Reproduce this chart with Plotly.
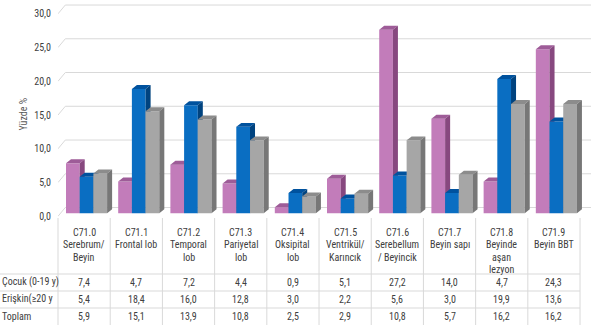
import plotly.graph_objects as go

# --- data -------------------------------------------------------------------
codes = ["C71.0", "C71.1", "C71.2", "C71.3", "C71.4",
         "C71.5", "C71.6", "C71.7", "C71.8", "C71.9"]
names = [["Serebrum/", "Beyin"], ["Frontal lob"], ["Temporal", "lob"], ["Pariyetal", "lob"],
         ["Oksipital", "lob"], ["Ventrikül/", "Karıncık"], ["Serebellum", "/ Beyincik"],
         ["Beyin sapı"], ["Beyinde", "aşan", "lezyon"], ["Beyin BBT"]]
series_names = ["Çocuk (0-19 y)", "Erişkin(≥20 y", "Toplam"]
cocuk = [7.4, 4.7, 7.2, 4.4, 0.9, 5.1, 27.2, 14.0, 4.7, 24.3]
eriskin = [5.4, 18.4, 16.0, 12.8, 3.0, 2.2, 5.6, 3.0, 19.9, 13.6]
toplam = [5.9, 15.1, 13.9, 10.8, 2.5, 2.9, 10.8, 5.7, 16.2, 16.2]
y_ticks = [0, 5, 10, 15, 20, 25, 30]
y_title = "Yüzde %"

series = [cocuk, eriskin, toplam]

# --- styling ----------------------------------------------------------------
FONT = "Liberation Sans Narrow, Arial Narrow, Roboto Condensed, Lato, sans-serif"
TXT = "#404040"
GRID = "#D9D9D9"
front_cols = ["#C27CBA", "#0A6EC2", "#A6A6A6"]
top_cols = ["#9E5C98", "#00529E", "#8C8C8C"]
side_cols = ["#87487F", "#00437F", "#777777"]

W, H = 591, 325
ML, MR, MT, MB = 58, 0, 2, 105
X_MIN, X_MAX = -0.5, 9.71
Y_MIN, Y_MAX = -1.0, 31.3

BAR_W = 0.2625               # front face width (category units)
BAR_OFF = [-0.347, -0.0845, 0.178]
DX, DY = 0.096, 0.59         # depth projection of the 3D bars
WALL_DY = 0.85               # back-wall gridline lift
FRONT_DY = -0.45             # front edge of the gridlines
WALL_DX = 0.14

LABEL_TOP = 232              # first line of the category labels (px)
LABEL_STEP = 12.6
ROW_Y = [282, 299, 316]
ROW_LINES = [274, 291, 308]
FS = 10


def px_x(px):
    return (px - ML) / (W - ML - MR)


def px_y(py):
    return (H - MB - py) / (H - MT - MB)


def fmt(v):
    return f"{v:.1f}".replace(".", ",")


fig = go.Figure()
xs = list(range(len(codes)))
axes = ["x", "x2", "x3"]

for s, vals in enumerate(series):
    xa = axes[s]
    # front faces
    fig.add_trace(go.Bar(
        x=xs, y=vals, width=BAR_W, offset=BAR_OFF[s],
        marker=dict(color=front_cols[s], line=dict(width=0)),
        name=series_names[s], xaxis=xa, yaxis="y", showlegend=False,
        hoverinfo="skip"))
    # top and side faces projected from each value
    tx, ty, sx, sy = [], [], [], []
    for i, v in zip(xs, vals):
        xl = i + BAR_OFF[s]
        xr = xl + BAR_W
        tx += [xl, xl + DX, xr + DX, xr, xl, None]
        ty += [v, v + DY, v + DY, v, v, None]
        sx += [xr, xr + DX, xr + DX, xr, xr, None]
        sy += [0, DY, v + DY, v, 0, None]
    fig.add_trace(go.Scatter(x=tx, y=ty, mode="lines", fill="toself",
                             fillcolor=top_cols[s], line=dict(width=0),
                             xaxis=xa, yaxis="y", showlegend=False, hoverinfo="skip"))
    fig.add_trace(go.Scatter(x=sx, y=sy, mode="lines", fill="toself",
                             fillcolor=side_cols[s], line=dict(width=0),
                             xaxis=xa, yaxis="y", showlegend=False, hoverinfo="skip"))

# gridlines on the back wall with a slanted lead-in from the axis
shapes = []
for v in y_ticks:
    shapes.append(dict(
        type="path", xref="x", yref="y", layer="below",
        path=(f"M {X_MIN},{v + FRONT_DY} L {X_MIN + WALL_DX},{v + WALL_DY} "
              f"L {X_MAX},{v + WALL_DY}"),
        line=dict(color=GRID, width=1)))

# data table grid
col_edges = [(i - 0.5 - X_MIN) / (X_MAX - X_MIN) for i in range(len(codes) + 1)]
for xe in col_edges:
    shapes.append(dict(type="line", xref="paper", yref="paper",
                       x0=xe, x1=xe, y0=px_y(218), y1=px_y(325),
                       line=dict(color=GRID, width=1)))
for py in ROW_LINES:
    shapes.append(dict(type="line", xref="paper", yref="paper",
                       x0=px_x(0), x1=col_edges[-1], y0=px_y(py), y1=px_y(py),
                       line=dict(color=GRID, width=1)))

annotations = []
for i, (c, n) in enumerate(zip(codes, names)):
    for k, line in enumerate([c] + n):
        annotations.append(dict(
            x=i, xref="x", y=px_y(LABEL_TOP + k * LABEL_STEP), yref="paper",
            yanchor="middle", text=line, showarrow=False,
            font=dict(family=FONT, size=FS, color=TXT)))
for r, (lab, vals) in enumerate(zip(series_names, series)):
    annotations.append(dict(
        x=px_x(0), xref="paper", xanchor="left", y=px_y(ROW_Y[r]), yref="paper",
        yanchor="middle", text=lab, showarrow=False,
        font=dict(family=FONT, size=FS, color=TXT)))
    for i, v in enumerate(vals):
        annotations.append(dict(
            x=i, xref="x", y=px_y(ROW_Y[r]), yref="paper", yanchor="middle",
            text=fmt(v), showarrow=False,
            font=dict(family=FONT, size=FS, color=TXT)))
annotations.append(dict(
    x=px_x(15), xref="paper", y=px_y(115), yref="paper", text=y_title,
    textangle=-90, showarrow=False, font=dict(family=FONT, size=10, color="#595959")))

hidden_x = dict(range=[X_MIN, X_MAX], visible=False, fixedrange=True)
fig.update_layout(
    width=W, height=H,
    margin=dict(l=ML, r=MR, t=MT, b=MB, pad=0),
    paper_bgcolor="white", plot_bgcolor="white",
    barmode="overlay",
    showlegend=False,
    xaxis=hidden_x,
    xaxis2=dict(hidden_x, overlaying="x"),
    xaxis3=dict(hidden_x, overlaying="x"),
    yaxis=dict(range=[Y_MIN, Y_MAX], showgrid=False, zeroline=False, showline=False,
               tickvals=[v + FRONT_DY for v in y_ticks],
               ticktext=[fmt(v) for v in y_ticks],
               ticks="", ticklabelstandoff=6,
               tickfont=dict(family=FONT, size=10, color=TXT)),
    shapes=shapes,
    annotations=annotations,
)

fig.write_html("out.html")
